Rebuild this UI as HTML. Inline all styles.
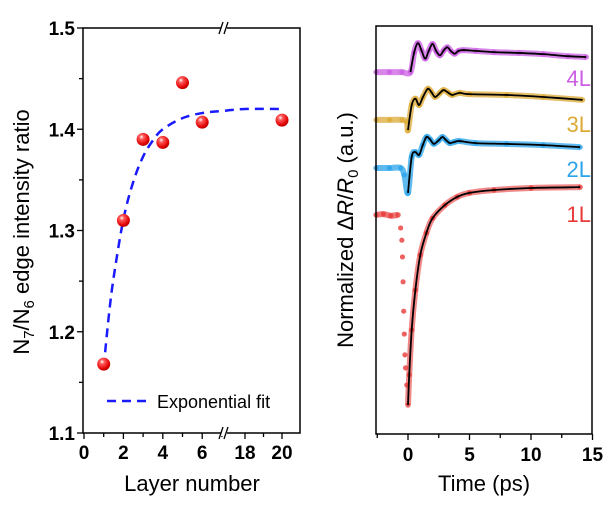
<!DOCTYPE html>
<html><head><meta charset="utf-8"><style>
body{margin:0;background:#fff}
svg text{font-family:"Liberation Sans",Arial,sans-serif}
</style></head><body>
<svg id="c" width="614" height="502" viewBox="0 0 614 502" xmlns="http://www.w3.org/2000/svg">
<defs>
<radialGradient id="ball" cx="0.38" cy="0.32" r="0.7">
<stop offset="0" stop-color="#fff"/><stop offset="0.25" stop-color="#ff5a5a"/><stop offset="0.8" stop-color="#e00000"/><stop offset="1" stop-color="#b00000"/>
</radialGradient>
</defs>
<g id="left"></g>
<g id="right"></g>
</svg>
<script>
// ---- Left panel data ----
const layerX = [1,2,3,4,5,6,20];
const ratioY = [1.168,1.31,1.39,1.387,1.446,1.407,1.409];
const fitX = [1,1.25,1.5,2,2.5,3,3.5,4,5,6,7,18,20];
const fitY = [1.165,1.214,1.253,1.311,1.348,1.373,1.389,1.40,1.411,1.416,1.418,1.42,1.42];
const leftYTicks = [1.1,1.2,1.3,1.4,1.5];
const leftXTicks = [0,2,4,6,18,20];
// ---- Right panel data ----
const timeTicks = [0,5,10,15];
const t4 = [-2.6,-1.5,-0.5,0.2,0.5,0.8,1.1,1.4,1.7,2.0,2.3,2.6,2.9,3.2,3.5,3.8,4.1,4.5,5.5,7,9,11,13,14.5];
const v4 = [88.7,88.7,88.7,88.7,93.5,95.8,94.0,92.0,94.0,95.6,93.8,92.8,94.0,94.8,93.8,93.2,93.9,94.1,93.9,93.6,93.4,93.1,92.6,92.4];
const t3 = [-2.6,-1.5,-0.5,-0.1,0,0.3,0.6,0.9,1.2,1.6,1.9,2.2,2.6,2.9,3.3,3.6,4.2,5,8,11,14.2];
const v3 = [77,77,77,76.5,74.5,80.6,82.2,80.6,82.5,84.6,83.8,82.6,83.6,84.3,83.6,83.1,83.6,83.3,83.1,82.6,81.9];
const t2 = [-2.6,-1.5,-0.6,-0.3,0,0.3,0.6,0.9,1.2,1.5,1.8,2.1,2.5,2.8,3.1,3.4,3.8,4.2,5.5,8,11,14];
const v2 = [65.2,65.2,65.2,63.5,59.1,67.9,69.1,68.4,70.8,72.8,72.2,71.1,72.0,72.8,72.0,71.3,71.6,71.8,71.3,71.1,70.8,70.3];
const t1 = [-2.6,-2,-1.4,-0.8,-0.6,-0.5,-0.45,-0.4,-0.35,-0.3,-0.25,-0.2,-0.1,0,0.1,0.3,0.6,1,1.5,2,3,4,5,7,10,14];
const v1 = [53.7,53.9,53.5,53.7,50.5,47.5,43.4,37.3,30.1,24.5,19.4,16.2,12,7.1,14.5,25.5,35.3,43.9,49.3,52.9,56.1,58.1,59.1,59.8,60.3,60.5];

const NS="http://www.w3.org/2000/svg";
function mk(parent,tag,attrs,text){const e=document.createElementNS(NS,tag);for(const k in attrs)e.setAttribute(k,attrs[k]);if(text!==undefined)e.textContent=text;parent.appendChild(e);return e;}
function smooth(p){if(p.length<2)return '';const f=q=>q[0].toFixed(2)+','+q[1].toFixed(2);let d='M'+f(p[0]);
 for(let i=0;i<p.length-1;i++){const p0=p[i-1]||p[i],p1=p[i],p2=p[i+1],p3=p[i+2]||p2;
  const c1=[p1[0]+(p2[0]-p0[0])/6,p1[1]+(p2[1]-p0[1])/6],c2=[p2[0]-(p3[0]-p1[0])/6,p2[1]-(p3[1]-p1[1])/6];
  d+=' C'+f(c1)+' '+f(c2)+' '+f(p2);}return d;}

// Left axes
const L=document.getElementById('left');
const lx=x=> x<=12 ? 84+x*19.7 : 245+(x-18)*18.5;
const ly=y=> 433-(y-1.1)*1012.5;
const lf={x0:83,x1:300,y0:28,y1:433};
for(let y=1.1;y<=1.5001;y+=0.05){const p=ly(y);const major=Math.abs(Math.round(y*10)-y*10)<1e-6;
 const t=mk(L,'line',{x1:lf.x0-(major?6:4),x2:lf.x0,y1:p,y2:p,stroke:'#000','stroke-width':1.3});
 }
leftYTicks.forEach(v=>{const t=mk(L,'text',{x:lf.x0-8,y:ly(v)+7,'text-anchor':'end','font-size':19,'font-weight':'bold'},v.toFixed(1));
 });
[0,1,2,3,4,5,6,7,18,19,20].forEach(v=>{const p=lx(v);const t=mk(L,'line',{x1:p,x2:p,y1:lf.y1,y2:lf.y1+(v%2===0?6:4),stroke:'#000','stroke-width':1.3});
 });
leftXTicks.forEach(v=>{const t=mk(L,'text',{x:lx(v),y:lf.y1+26,'text-anchor':'middle','font-size':19,'font-weight':'bold'},String(v));
 });
const fr=mk(L,'rect',{x:lf.x0,y:lf.y0,width:lf.x1-lf.x0,height:lf.y1-lf.y0,fill:'none',stroke:'#000','stroke-width':1.5});

[lf.y0,lf.y1].forEach(yy=>{const g=mk(L,'g',{});
 mk(g,'rect',{x:221,y:yy-3,width:6,height:6,fill:'#fff'});
 mk(g,'line',{x1:219,y1:yy+6,x2:223,y2:yy-6,stroke:'#000','stroke-width':1.3});
 mk(g,'line',{x1:224,y1:yy+6,x2:228,y2:yy-6,stroke:'#000','stroke-width':1.3});});
const fl=mk(L,'path',{d:smooth(fitX.map((x,i)=>[lx(x),ly(fitY[i])])),fill:'none',stroke:'#1a1aff','stroke-width':2.5,'stroke-dasharray':'9,6'});

layerX.forEach((x,i)=>{const c=mk(L,'circle',{cx:lx(x),cy:ly(ratioY[i]),r:6.5,fill:'url(#ball)'});
 });
const lg=mk(L,'g',{});
mk(lg,'line',{x1:107,x2:152,y1:401,y2:401,stroke:'#1a1aff','stroke-width':2.5,'stroke-dasharray':'9,6'});
mk(lg,'text',{x:157,y:408,'font-size':18},'Exponential fit');
const yt=mk(L,'text',{transform:'translate(29,232) rotate(-90)','text-anchor':'middle','font-size':22},'');

yt.innerHTML='N<tspan font-size="15" dy="5">7</tspan><tspan dy="-5">/N</tspan><tspan font-size="15" dy="5">6</tspan><tspan dy="-5"> edge intensity ratio</tspan>';
const xt=mk(L,'text',{x:192,y:491,'text-anchor':'middle','font-size':22},'Layer number');


// Right axes
const R=document.getElementById('right');
const rf={x0:376,x1:592,y0:26,y1:434};
const rx=t=>408+t*12.3;
const ry=v=>434-v*4.08;
for(let t=-2.5;t<=15;t+=2.5){const p=rx(t);const k=mk(R,'line',{x1:p,x2:p,y1:rf.y1,y2:rf.y1+(t%5===0?6:4),stroke:'#000','stroke-width':1.3});
 }
timeTicks.forEach(v=>{const t=mk(R,'text',{x:rx(v),y:rf.y1+27,'text-anchor':'middle','font-size':19,'font-weight':'bold'},String(v));
 });
const series=[{n:'1L',t:t1,v:v1,c:'#e83a3a',ly:214},{n:'2L',t:t2,v:v2,c:'#2aa4ea',ly:169},{n:'3L',t:t3,v:v3,c:'#dcaa35',ly:124},{n:'4L',t:t4,v:v4,c:'#cc5ee3',ly:78}];
series.forEach(s=>{const g=mk(R,'g',{});
 const all=s.t.map((t,i)=>[rx(t),ry(s.v[i]),t]);
 if(s.n!=='1L'){mk(g,'path',{d:smooth(all),fill:'none',stroke:s.c,'stroke-width':6,'stroke-opacity':0.75,'stroke-linejoin':'round'});}
 else{mk(g,'path',{d:smooth(all.filter(p=>p[2]<=-0.7)),fill:'none',stroke:s.c,'stroke-width':6,'stroke-opacity':0.7});
  mk(g,'path',{d:smooth(all.filter(p=>p[2]>=0)),fill:'none',stroke:s.c,'stroke-width':6,'stroke-opacity':0.6});}
 all.forEach(p=>{const c=mk(g,'circle',{cx:p[0],cy:p[1],r:2.6,fill:s.c,'fill-opacity':0.8});
  });
 const fp=all.filter(p=>s.n==='4L'?p[2]>=0.2:p[2]>=0);
 const f=mk(g,'path',{d:smooth(fp),fill:'none',stroke:'#000','stroke-width':1.8,'stroke-linejoin':'round'});
 
 const lb=mk(R,'text',{x:591,y:s.ly+8,'text-anchor':'end','font-size':22,fill:s.c},s.n);
 
});
const rfr=mk(R,'rect',{x:rf.x0,y:rf.y0,width:rf.x1-rf.x0,height:rf.y1-rf.y0,fill:'none',stroke:'#000','stroke-width':1.5});

const ryt=mk(R,'text',{transform:'translate(353,230) rotate(-90)','text-anchor':'middle','font-size':22},'');

ryt.innerHTML='Normalized Δ<tspan font-style="italic">R</tspan>/<tspan font-style="italic">R</tspan><tspan font-size="15" dy="5">0</tspan><tspan dy="-5"> (a.u.)</tspan>';
const rxt=mk(R,'text',{x:484,y:491,'text-anchor':'middle','font-size':22},'Time (ps)');

</script>
</body></html>
